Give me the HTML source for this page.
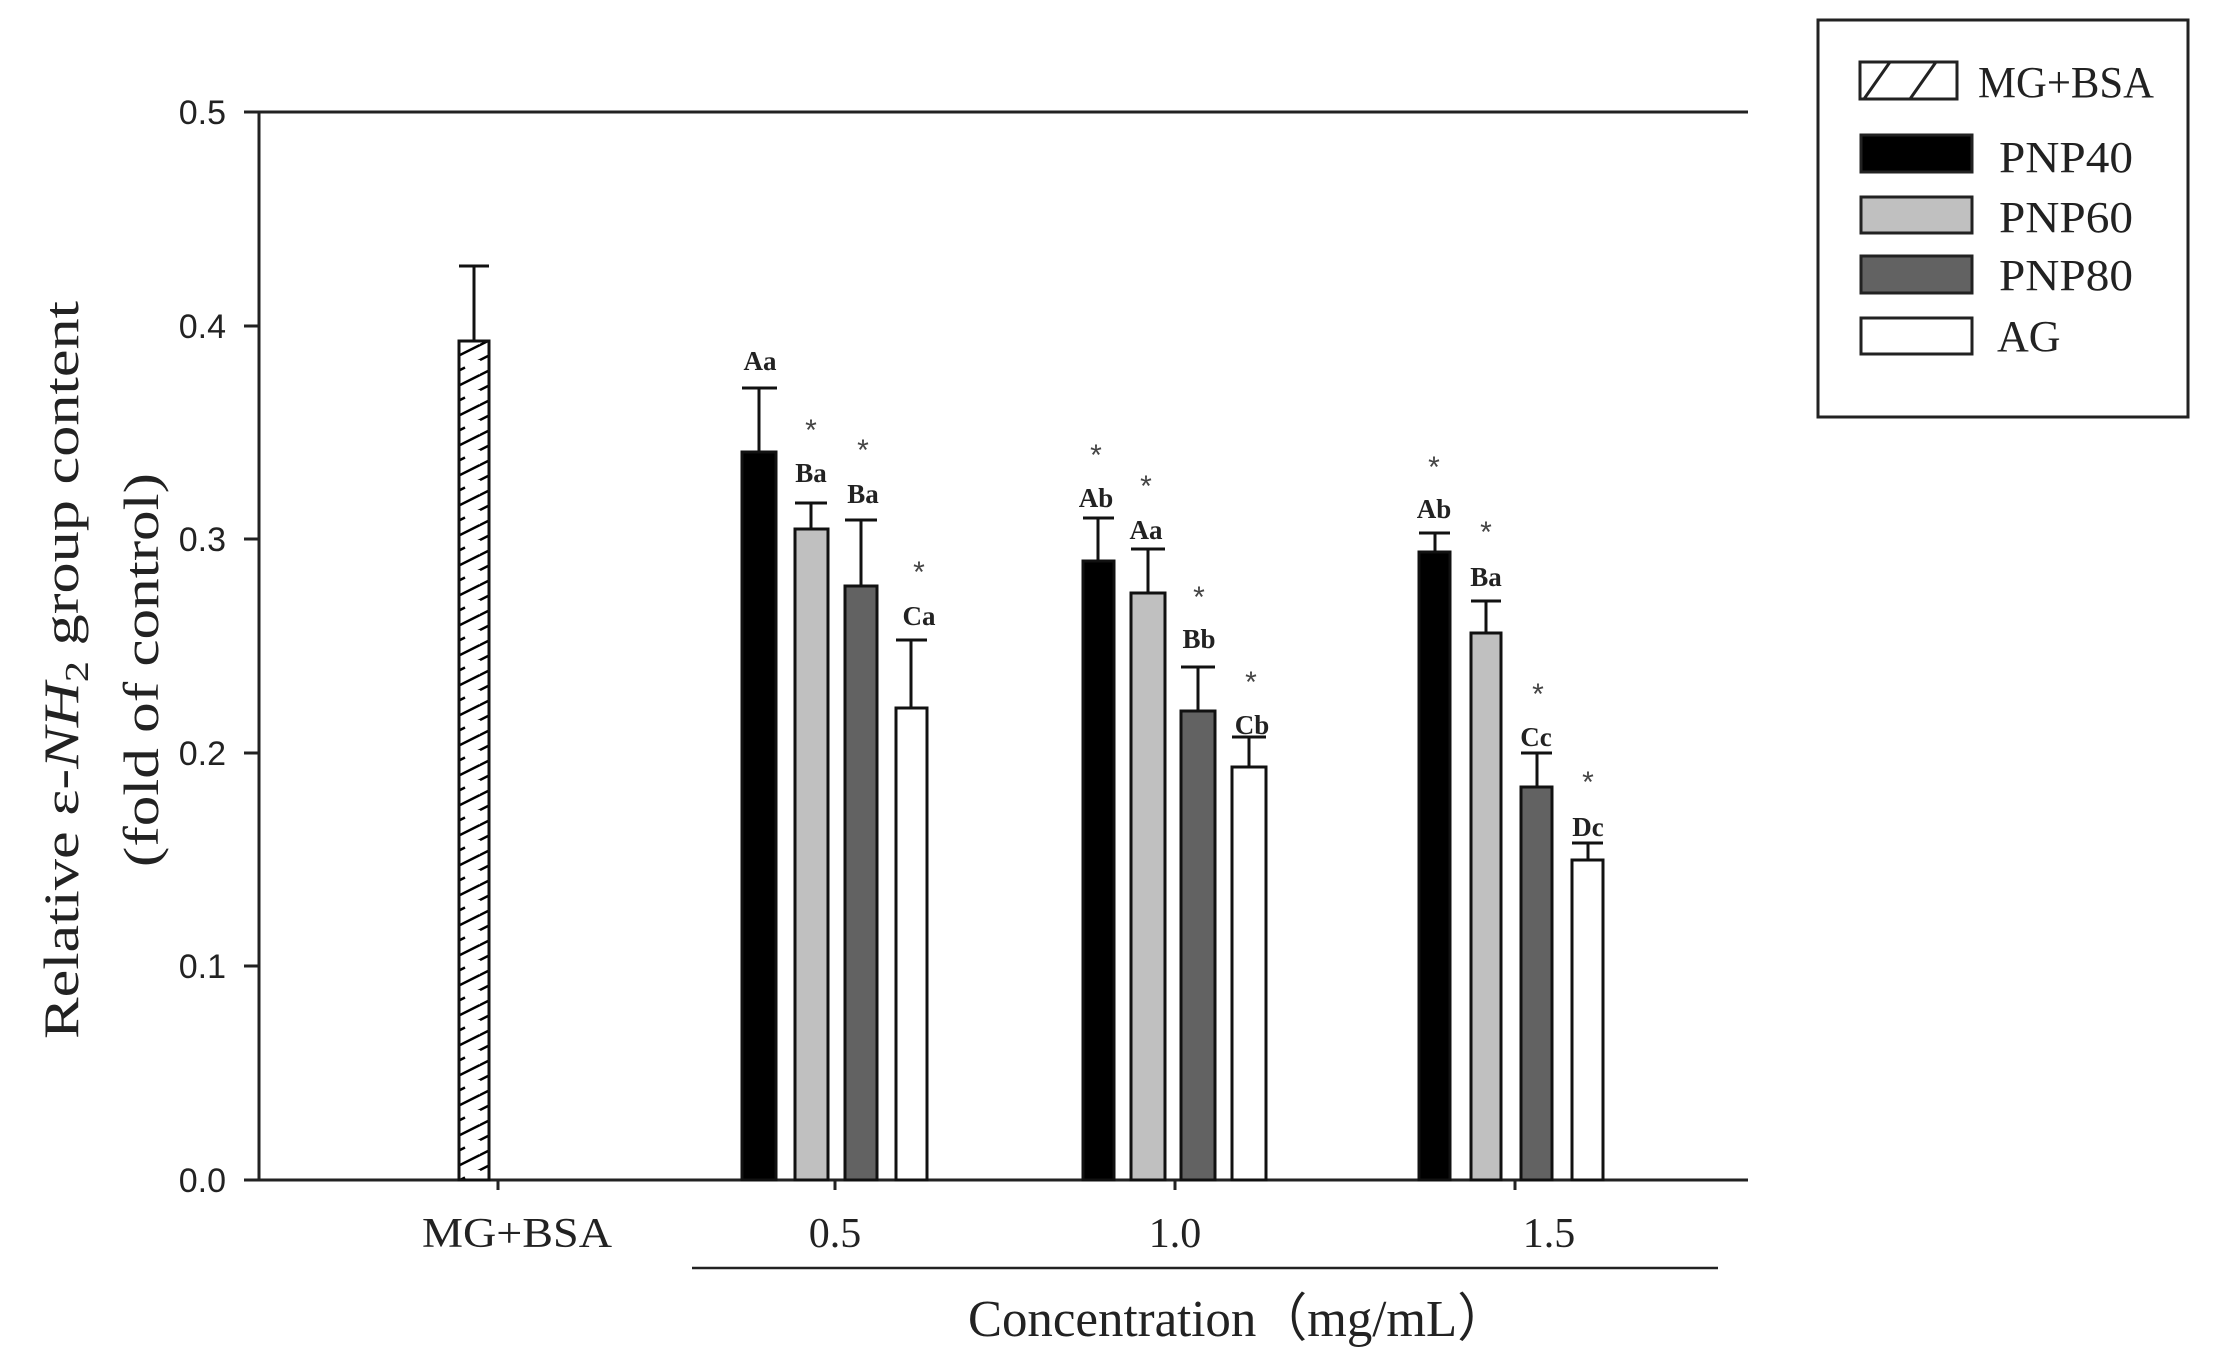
<!DOCTYPE html>
<html><head><meta charset="utf-8"><style>html,body{margin:0;padding:0;background:#fff}</style></head>
<body>
<svg width="2214" height="1365" viewBox="0 0 2214 1365" xmlns="http://www.w3.org/2000/svg">
<defs>
<pattern id="hatch" patternUnits="userSpaceOnUse" width="30" height="30">
<path d="M0,30 L30,15 M-15,22.5 L15,7.5 M15,37.5 L45,22.5 M0,0 L30,-15 M-15,52.5 L45,22.5" stroke="#000" stroke-width="2.5"/>
</pattern>
</defs>
<g font-family="Liberation Sans, sans-serif" font-size="34" fill="#222" text-anchor="end">
<text x="226" y="124">0.5</text>
<text x="226" y="338">0.4</text>
<text x="226" y="551">0.3</text>
<text x="226" y="765">0.2</text>
<text x="226" y="978">0.1</text>
<text x="226" y="1192">0.0</text>
</g>
<g stroke="#222" stroke-width="3">
<line x1="259" y1="112" x2="1748" y2="112"/>
<line x1="259" y1="112" x2="259" y2="1181"/>
<line x1="244" y1="1180" x2="1748" y2="1180"/>
<line x1="244" y1="112" x2="259" y2="112"/>
<line x1="244" y1="326" x2="259" y2="326"/>
<line x1="244" y1="539" x2="259" y2="539"/>
<line x1="244" y1="753" x2="259" y2="753"/>
<line x1="244" y1="966" x2="259" y2="966"/>
<line x1="498" y1="1180" x2="498" y2="1190"/>
<line x1="835" y1="1180" x2="835" y2="1190"/>
<line x1="1175" y1="1180" x2="1175" y2="1190"/>
<line x1="1515" y1="1180" x2="1515" y2="1190"/>
<line x1="692" y1="1268" x2="1718" y2="1268" stroke-width="2.5"/>
</g>
<g stroke="#111" stroke-width="3">
<line x1="474" y1="266" x2="474" y2="341"/><line x1="459" y1="266" x2="489" y2="266"/>
<rect x="459" y="341" width="30" height="839" fill="#fff"/>
<rect x="459" y="341" width="30" height="839" fill="url(#hatch)"/>
</g>
<g stroke="#111" stroke-width="3">
<line x1="759" y1="388" x2="759" y2="452"/><line x1="742" y1="388" x2="777" y2="388"/>
<rect x="742" y="452" width="34" height="728" fill="#000"/>
<line x1="811" y1="503" x2="811" y2="529"/><line x1="795" y1="503" x2="827" y2="503"/>
<rect x="795" y="529" width="33" height="651" fill="#c0c0c0"/>
<line x1="861" y1="520" x2="861" y2="586"/><line x1="845" y1="520" x2="877" y2="520"/>
<rect x="845" y="586" width="32" height="594" fill="#626262"/>
<line x1="911" y1="640" x2="911" y2="708"/><line x1="896" y1="640" x2="927" y2="640"/>
<rect x="896" y="708" width="31" height="472" fill="#fff"/>
<line x1="1098" y1="518" x2="1098" y2="561"/><line x1="1083" y1="518" x2="1114" y2="518"/>
<rect x="1083" y="561" width="31" height="619" fill="#000"/>
<line x1="1148" y1="549" x2="1148" y2="593"/><line x1="1131" y1="549" x2="1165" y2="549"/>
<rect x="1131" y="593" width="34" height="587" fill="#c0c0c0"/>
<line x1="1198" y1="667" x2="1198" y2="711"/><line x1="1181" y1="667" x2="1215" y2="667"/>
<rect x="1181" y="711" width="34" height="469" fill="#626262"/>
<line x1="1249" y1="737" x2="1249" y2="767"/><line x1="1232" y1="737" x2="1266" y2="737"/>
<rect x="1232" y="767" width="34" height="413" fill="#fff"/>
<line x1="1435" y1="533" x2="1435" y2="552"/><line x1="1419" y1="533" x2="1450" y2="533"/>
<rect x="1419" y="552" width="31" height="628" fill="#000"/>
<line x1="1486" y1="601" x2="1486" y2="633"/><line x1="1471" y1="601" x2="1501" y2="601"/>
<rect x="1471" y="633" width="30" height="547" fill="#c0c0c0"/>
<line x1="1537" y1="753" x2="1537" y2="787"/><line x1="1521" y1="753" x2="1552" y2="753"/>
<rect x="1521" y="787" width="31" height="393" fill="#626262"/>
<line x1="1588" y1="843" x2="1588" y2="860"/><line x1="1572" y1="843" x2="1603" y2="843"/>
<rect x="1572" y="860" width="31" height="320" fill="#fff"/>
</g>
<g font-family="Liberation Serif, serif" font-weight="bold" font-size="27" fill="#222" text-anchor="middle">
<text x="760" y="370">Aa</text>
<text x="811" y="482">Ba</text>
<text x="863" y="503">Ba</text>
<text x="919" y="625">Ca</text>
<text x="1096" y="507">Ab</text>
<text x="1146" y="539">Aa</text>
<text x="1199" y="648">Bb</text>
<text x="1252" y="734">Cb</text>
<text x="1434" y="518">Ab</text>
<text x="1486" y="586">Ba</text>
<text x="1536" y="746">Cc</text>
<text x="1588" y="836">Dc</text>
</g>
<g font-family="Liberation Sans, sans-serif" font-size="30" fill="#444" text-anchor="middle">
<text x="811" y="440">*</text>
<text x="863" y="460">*</text>
<text x="919" y="582">*</text>
<text x="1096" y="465">*</text>
<text x="1146" y="496">*</text>
<text x="1199" y="607">*</text>
<text x="1251" y="692">*</text>
<text x="1434" y="477">*</text>
<text x="1486" y="542">*</text>
<text x="1538" y="704">*</text>
<text x="1588" y="792">*</text>
</g>
<g font-family="Liberation Serif, serif" font-size="42" fill="#222" text-anchor="middle">
<text x="517" y="1247" textLength="190" lengthAdjust="spacingAndGlyphs">MG+BSA</text>
<text x="835" y="1247">0.5</text>
<text x="1175" y="1247">1.0</text>
<text x="1549" y="1247">1.5</text>
<text x="1238" y="1336" font-size="52" textLength="540" lengthAdjust="spacingAndGlyphs">Concentration（mg/mL）</text>
</g>
<g font-family="Liberation Serif, serif" font-size="50" fill="#222" text-anchor="middle">
<text transform="translate(78,670) rotate(-90)" textLength="738" lengthAdjust="spacingAndGlyphs">Relative ε-<tspan font-style="italic">NH</tspan><tspan font-size="34" dy="10">2</tspan><tspan dy="-10"> group content</tspan></text>
<text transform="translate(158,670) rotate(-90)" textLength="394" lengthAdjust="spacingAndGlyphs">(fold of control)</text>
</g>
<rect x="1818" y="20" width="370" height="397" fill="none" stroke="#222" stroke-width="3"/>
<g stroke="#222" stroke-width="3">
<rect x="1860" y="62" width="97" height="37" fill="#fff"/>
<line x1="1864" y1="99" x2="1890" y2="62"/>
<line x1="1910" y1="99" x2="1936" y2="62"/>
<rect x="1861" y="135" width="111" height="37" fill="#000"/>
<rect x="1861" y="197" width="111" height="36" fill="#c0c0c0"/>
<rect x="1861" y="256" width="111" height="37" fill="#626262"/>
<rect x="1861" y="318" width="111" height="36" fill="#fff"/>
</g>
<g font-family="Liberation Serif, serif" font-size="44" fill="#222">
<text x="1978" y="97" textLength="176" lengthAdjust="spacingAndGlyphs">MG+BSA</text>
<text x="1999" y="172" textLength="134" lengthAdjust="spacingAndGlyphs">PNP40</text>
<text x="1999" y="232" textLength="134" lengthAdjust="spacingAndGlyphs">PNP60</text>
<text x="1999" y="290" textLength="134" lengthAdjust="spacingAndGlyphs">PNP80</text>
<text x="1997" y="351">AG</text>
</g>
</svg>
</body></html>
